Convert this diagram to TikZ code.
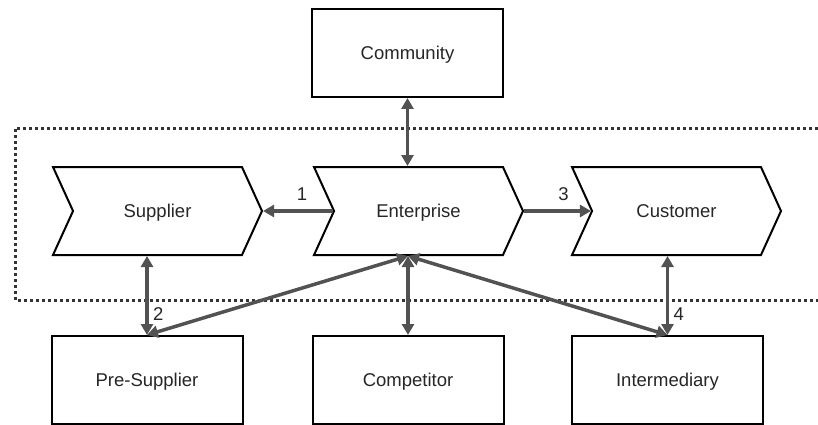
\documentclass[tikz,border=0pt]{standalone}
\usepackage{fontspec}
\setmainfont{Liberation Sans}
\usetikzlibrary{shapes.symbols,arrows.meta}

\begin{document}
\begin{tikzpicture}[x=1pt,y=-1pt,
  font=\fontsize{18.5}{22}\selectfont,
  box/.style={draw,line width=2pt,minimum width=191pt,minimum height=88pt,text=black!85,
    text height=13.7pt,text depth=0pt},
  chev/.style={draw,line width=2pt,signal,signal to=east,signal from=west,signal pointer angle=131,
    minimum width=209pt,minimum height=88pt,inner sep=0pt,text=black!85,
    text height=13.7pt,text depth=0pt},
  link/.style={draw=black!68,line width=3.5pt,{Triangle[length=11pt,width=12pt]}-{Triangle[length=11pt,width=12pt]}},
  onelink/.style={draw=black!68,line width=3.5pt,-{Triangle[length=11pt,width=12pt]}},
  num/.style={text=black!85}]
\useasboundingbox (0,0) rectangle (818,425);
\draw[line width=3pt,dash pattern=on 3pt off 3pt,black!80] (818,128) -- (15,128) -- (15,300) -- (818,300);
\node[box] (community) at (407.5,53) {Community};
\node[chev] (supplier) at (157.5,211) {Supplier};
\node[chev] (enterprise) at (418.5,211) {Enterprise};
\node[chev] (customer) at (676.5,211) {Customer};
\node[box] (presupplier) at (147,380) {Pre-Supplier};
\node[box] (competitor) at (408,380) {Competitor};
\node[box] (intermediary) at (667.5,380) {Intermediary};
\coordinate (entbot) at (competitor.north |- enterprise.south);
\draw[link] (community.south) -- (community.south |- enterprise.north);
\draw[onelink] (enterprise.west) -- (supplier.east) node[num,midway,above=5pt,xshift=4pt] {1};
\draw[onelink] (enterprise.east) -- (customer.west) node[num,midway,above=5pt,xshift=6pt] {3};
\draw[link] (presupplier.north) -- (presupplier.north |- supplier.south) node[num,pos=0.27,right=1pt] {2};
\draw[link] (intermediary.north) -- (intermediary.north |- customer.south) node[num,pos=0.27,right=1pt] {4};
\draw[link] (competitor.north) -- (entbot);
\draw[link] (presupplier.north) -- (entbot);
\draw[link] (intermediary.north) -- (entbot);
\end{tikzpicture}
\end{document}
